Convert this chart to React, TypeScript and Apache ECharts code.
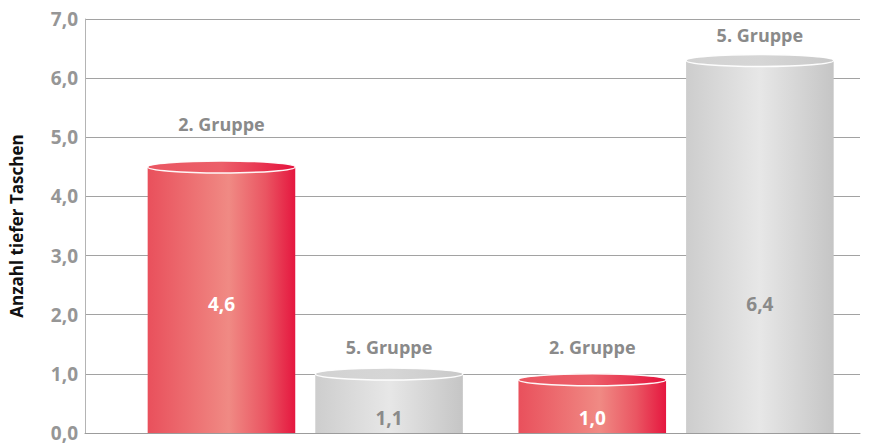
import React, { useEffect, useRef } from "react";
import * as echarts from "echarts";

// ---- data ----
const groupCaptions = ["2. Gruppe", "5. Gruppe", "2. Gruppe", "5. Gruppe"];
const barValues = [4.6, 1.1, 1.0, 6.4];
const barKinds = ["red", "grey", "red", "grey"];
const captionLevels = [5.22, 1.45, 1.45, 6.73];
const yTicks = [0, 1, 2, 3, 4, 5, 6, 7];

const FONT = "'Open Sans', 'Noto Sans', sans-serif";

const palettes: Record<string, any> = {
  red: {
    body: [
      { offset: 0, color: "#e9505c" },
      { offset: 0.55, color: "#f08a84" },
      { offset: 0.8, color: "#ea5562" },
      { offset: 1, color: "#e5173f" },
    ],
    cap: [
      { offset: 0, color: "#ea5662" },
      { offset: 0.5, color: "#ec5f69" },
      { offset: 1, color: "#e5113c" },
    ],
    label: "#ffffff",
  },
  grey: {
    body: [
      { offset: 0, color: "#cdcdcd" },
      { offset: 0.5, color: "#e7e7e7" },
      { offset: 1, color: "#c5c5c5" },
    ],
    cap: [
      { offset: 0, color: "#d2d2d2" },
      { offset: 0.5, color: "#d6d6d6" },
      { offset: 1, color: "#c9c9c9" },
    ],
    label: "#8a8a8a",
  },
};

export default function App() {
  const ref = useRef<HTMLDivElement>(null);

  useEffect(() => {
    if (!ref.current) return;
    const chart = echarts.init(ref.current, undefined, { renderer: "svg" });

    const halfGap = 0.226; // offset of bar centre from pair centre (axis units)
    const barW = 0.398; // bar width in axis units
    const data = barValues.map((v, i) => [
      Math.floor(i / 2) + (i % 2 === 0 ? -halfGap : halfGap),
      v,
      captionLevels[i],
    ]);

    const option: any = {
      animation: false,
      grid: { left: 83, right: 10, top: 19, bottom: 10 },
      xAxis: {
        type: "value",
        min: -0.594,
        max: 1.496,
        axisLine: { show: true, onZero: false, lineStyle: { color: "#9c9c9c", width: 1 } },
        axisTick: { show: false },
        axisLabel: { show: false },
        splitLine: { show: false },
      },
      yAxis: {
        type: "value",
        min: yTicks[0],
        max: yTicks[yTicks.length - 1],
        interval: 1,
        name: "Anzahl tiefer Taschen",
        nameLocation: "middle",
        nameGap: 60,
        nameTextStyle: {
          fontFamily: FONT,
          fontWeight: "bold",
          fontSize: 17,
          color: "#111111",
        },
        axisLine: { show: true, onZero: false, lineStyle: { color: "#b4b4b4", width: 1 } },
        axisTick: { show: false },
        axisLabel: {
          margin: 7,
          fontFamily: FONT,
          fontWeight: "bold",
          fontSize: 19,
          color: "#969696",
          formatter: (v: number) => v.toFixed(1).replace(".", ","),
        },
        splitLine: { show: true, lineStyle: { color: "#a2a2a2", width: 1 } },
      },
      series: [
        {
          type: "custom",
          data,
          clip: false,
          renderItem: (params: any, api: any) => {
            const i = params.dataIndex;
            const x = api.value(0);
            const v = api.value(1);
            const capLevel = api.value(2);
            const top = api.coord([x, v]);
            const base = api.coord([x, 0]);
            const w = api.size([barW, 0])[0];
            const ry = 6;
            const pal = palettes[barKinds[i]];
            const left = top[0] - w / 2;
            const cy = top[1] + ry;
            const capPt = api.coord([x, capLevel]);
            const labelY = base[1] - (v > 2 ? 129 : 15);
            return {
              type: "group",
              children: [
                {
                  type: "rect",
                  shape: { x: left, y: cy, width: w, height: base[1] - cy },
                  style: {
                    fill: new echarts.graphic.LinearGradient(0, 0, 1, 0, pal.body),
                  },
                },
                {
                  type: "ellipse",
                  shape: { cx: top[0], cy, rx: w / 2, ry },
                  style: {
                    fill: new echarts.graphic.LinearGradient(0, 0, 1, 0, pal.cap),
                    stroke: "rgba(255,255,255,0.95)",
                    lineWidth: 1.5,
                  },
                },
                {
                  type: "text",
                  style: {
                    x: top[0],
                    y: labelY,
                    text: String(v.toFixed(1)).replace(".", ","),
                    fill: pal.label,
                    font: `bold 19px ${FONT}`,
                    align: "center",
                    verticalAlign: "middle",
                  },
                },
                {
                  type: "text",
                  style: {
                    x: top[0],
                    y: capPt[1],
                    text: groupCaptions[i],
                    fill: "#8a8a8a",
                    font: `bold 18px ${FONT}`,
                    align: "center",
                    verticalAlign: "middle",
                  },
                },
              ],
            };
          },
        },
      ],
    };

    chart.setOption(option);
    return () => chart.dispose();
  }, []);

  return (
    <div
      ref={ref}
      style={{ position: "absolute", left: 0, top: 0, width: 870, height: 443 }}
    />
  );
}
